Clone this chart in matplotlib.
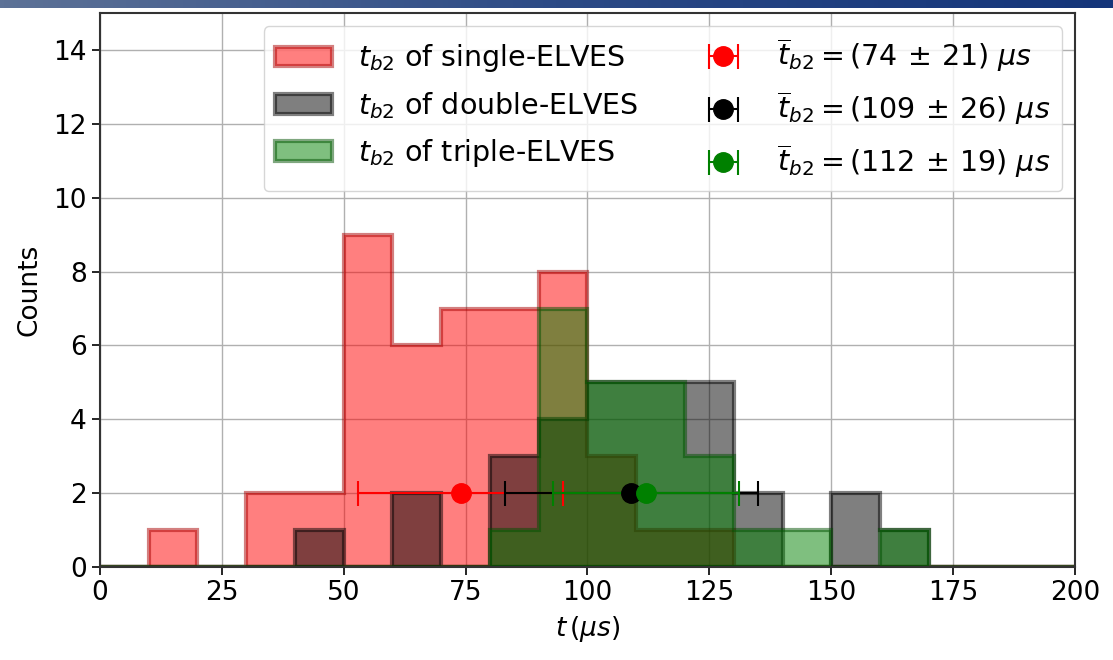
import numpy as np
import matplotlib
matplotlib.use("Agg")
import matplotlib.pyplot as plt
from matplotlib.colors import LinearSegmentedColormap

# Histogram bins (microseconds) and per-bin counts
bin_edges = np.arange(0, 210, 10)
single_counts = [0, 1, 0, 2, 2, 9, 6, 7, 7, 8, 3, 1, 1, 0, 0, 0, 0, 0, 0, 0]
double_counts = [0, 0, 0, 0, 1, 0, 2, 0, 3, 4, 5, 5, 5, 2, 0, 2, 1, 0, 0, 0]
triple_counts = [0, 0, 0, 0, 0, 0, 0, 0, 1, 7, 5, 5, 3, 1, 1, 0, 1, 0, 0, 0]

hist_labels = [r"$t_{b2}$ of single-ELVES",
               r"$t_{b2}$ of double-ELVES",
               r"$t_{b2}$ of triple-ELVES"]

# Mean values with spread, drawn at y = 2
mean_values = [74, 109, 112]
mean_errors = [21, 26, 19]
mean_level = 2
mean_labels = [r"$\overline{t}_{b2} = (74\,\pm\,21)\ \mu s$",
               r"$\overline{t}_{b2} = (109\,\pm\,26)\ \mu s$",
               r"$\overline{t}_{b2} = (112\,\pm\,19)\ \mu s$"]

x_ticks = [0, 25, 50, 75, 100, 125, 150, 175, 200]
y_ticks = [0, 2, 4, 6, 8, 10, 12, 14]

face_colors = ["red", "black", "green"]
edge_colors = ["#a80000", "black", "#005000"]

FS = 19
LEG_FS = 20.5

fig = plt.figure(figsize=(11.13, 6.6), dpi=100)
ax = fig.add_axes([0.0898, 0.141, 0.8761, 0.839])

centers = 0.5 * (bin_edges[:-1] + bin_edges[1:])
hist_handles = []
for counts, fc, ec, lab in zip([single_counts, double_counts, triple_counts],
                               face_colors, edge_colors, hist_labels):
    _, _, patches = ax.hist(centers, bins=bin_edges, weights=counts,
                            histtype="stepfilled", facecolor=fc, edgecolor=ec,
                            alpha=0.5, linewidth=3, label=lab, zorder=2)
    hist_handles.append(patches[0])

err_handles = []
for m, e, c, lab in zip(mean_values, mean_errors, face_colors, mean_labels):
    h = ax.errorbar(m, mean_level, xerr=e, fmt="o", color=c, ms=14,
                    elinewidth=1.5, capsize=9, capthick=1.5, label=lab, zorder=4)
    err_handles.append(h)

ax.set_xlim(0, 200)
ax.set_ylim(0, 15)
ax.set_xticks(x_ticks)
ax.set_yticks(y_ticks)
ax.tick_params(labelsize=FS, length=6, width=1.2)
ax.grid(True, color="#b0b0b0", linewidth=1, zorder=1)
ax.set_axisbelow(True)
for sp in ax.spines.values():
    sp.set_linewidth(1.5)
    sp.set_color("#333333")

ax.set_xlabel(r"$t\,(\mu s)$", fontsize=FS, labelpad=6)
ax.set_ylabel("Counts", fontsize=FS, labelpad=8)

ax.legend(hist_handles + err_handles, hist_labels + mean_labels,
          ncol=2, loc="upper right", fontsize=LEG_FS, handlelength=2.0,
          columnspacing=2.0, borderaxespad=0.45, labelspacing=0.55,
          handletextpad=0.9)

# Header band across the top edge
band = fig.add_axes([0, 1 - 8 / 660, 1, 8 / 660])
cmap = LinearSegmentedColormap.from_list("band", ["#5d7297", "#2c4a86", "#14357a"])
band.imshow(np.linspace(0, 1, 256)[None, :], aspect="auto", cmap=cmap)
band.set_axis_off()

fig.savefig("out.png", dpi=100)
